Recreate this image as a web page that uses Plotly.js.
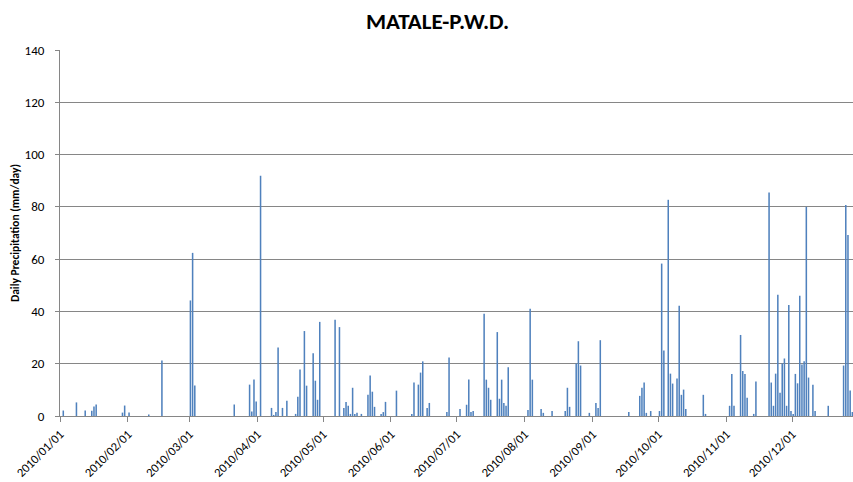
<!DOCTYPE html>
<html>
<head>
<meta charset="utf-8">
<script src="https://cdn.plot.ly/plotly-3.0.1.min.js"></script>
<style>html,body{margin:0;padding:0;background:#fff;}#chart{width:853px;height:482px;}</style>
</head>
<body>
<div id="chart"></div>
<script>
// Daily precipitation (mm/day), MATALE-P.W.D., 2010 (non-zero days)
const dates = [
 "2010-01-02","2010-01-08","2010-01-12","2010-01-15","2010-01-16","2010-01-17","2010-01-29","2010-01-30",
 "2010-02-01","2010-02-10","2010-02-16",
 "2010-03-01","2010-03-02","2010-03-03","2010-03-21","2010-03-28","2010-03-29","2010-03-30","2010-03-31",
 "2010-04-02","2010-04-07","2010-04-08","2010-04-09","2010-04-10","2010-04-12","2010-04-14","2010-04-18",
 "2010-04-19","2010-04-20","2010-04-22","2010-04-23","2010-04-26","2010-04-27","2010-04-28","2010-04-29",
 "2010-05-06","2010-05-08","2010-05-10","2010-05-11","2010-05-12","2010-05-13","2010-05-14","2010-05-15",
 "2010-05-16","2010-05-18","2010-05-21","2010-05-22","2010-05-23","2010-05-24","2010-05-27","2010-05-28","2010-05-29",
 "2010-06-03","2010-06-10","2010-06-11","2010-06-13","2010-06-14","2010-06-15","2010-06-17","2010-06-18",
 "2010-06-26","2010-06-27",
 "2010-07-02","2010-07-05","2010-07-06","2010-07-07","2010-07-08","2010-07-13","2010-07-14","2010-07-15",
 "2010-07-16","2010-07-19","2010-07-20","2010-07-21","2010-07-22","2010-07-23","2010-07-24",
 "2010-08-02","2010-08-03","2010-08-04","2010-08-08","2010-08-09","2010-08-13","2010-08-19","2010-08-20",
 "2010-08-21","2010-08-24","2010-08-25","2010-08-26","2010-08-30",
 "2010-09-02","2010-09-03","2010-09-04","2010-09-17","2010-09-22","2010-09-23","2010-09-24","2010-09-25","2010-09-27",
 "2010-10-01","2010-10-02","2010-10-03","2010-10-05","2010-10-06","2010-10-07","2010-10-09","2010-10-10",
 "2010-10-11","2010-10-12","2010-10-13","2010-10-21","2010-10-22",
 "2010-11-02","2010-11-03","2010-11-04","2010-11-07","2010-11-08","2010-11-09","2010-11-10","2010-11-13",
 "2010-11-14","2010-11-20","2010-11-21","2010-11-22","2010-11-23","2010-11-24","2010-11-25","2010-11-26",
 "2010-11-27","2010-11-28","2010-11-29","2010-11-30",
 "2010-12-01","2010-12-02","2010-12-03","2010-12-04","2010-12-05","2010-12-06","2010-12-07","2010-12-08",
 "2010-12-10","2010-12-11","2010-12-17","2010-12-24","2010-12-25","2010-12-26","2010-12-27","2010-12-28"
];
const precipitation = [
 2.1,5.2,2.1,2.0,3.6,4.4,1.3,4.0,
 1.3,0.6,21.2,
 44.2,62.4,11.7,4.4,12.0,1.7,14.0,5.5,
 91.9,3.1,0.4,1.5,26.2,3.1,5.8,0.8,
 7.4,17.8,32.5,11.6,24.0,13.5,6.2,36.0,
 36.8,34.0,3.1,5.4,3.9,0.8,10.8,0.8,
 1.2,0.8,8.1,15.5,9.3,3.5,0.8,1.5,5.4,
 9.7,0.8,12.8,12.0,16.6,20.9,3.1,5.0,
 1.5,22.4,
 2.7,4.3,14.0,1.5,1.9,39.1,13.9,10.8,
 6.2,32.1,6.6,13.9,5.0,3.9,18.6,
 2.3,41.0,13.9,2.7,1.2,1.9,1.9,10.8,
 3.5,20.1,28.6,19.3,1.2,
 5.0,3.1,29.0,1.5,7.7,10.8,12.8,1.2,1.9,
 1.9,58.3,25.1,82.7,16.2,12.4,14.3,42.2,
 8.1,10.1,2.7,8.1,0.8,
 3.9,16.1,3.9,31.0,17.2,16.1,7.0,0.8,
 13.2,85.5,12.8,3.9,16.2,46.4,8.9,20.1,
 22.0,3.9,42.5,1.9,
 0.8,16.1,12.5,46.0,19.7,20.9,80.0,14.7,
 12.0,1.9,3.9,19.3,80.7,69.2,9.8,1.5
];
const chartTitle = "MATALE-P.W.D.";
const yTitle = "Daily Precipitation (mm/day)";
const monthTicks = ["2010-01-01","2010-02-01","2010-03-01","2010-04-01","2010-05-01","2010-06-01",
 "2010-07-01","2010-08-01","2010-09-01","2010-10-01","2010-11-01","2010-12-01"];
const monthLabels = ["2010/01/01","2010/02/01","2010/03/01","2010/04/01","2010/05/01","2010/06/01",
 "2010/07/01","2010/08/01","2010/09/01","2010/10/01","2010/11/01","2010/12/01"];

const fontFam = 'Carlito, Calibri, "Open Sans", "Liberation Sans", sans-serif';

const trace = {
  type: 'bar',
  x: dates,
  y: precipitation,
  xperiod: 86400000,
  xperiodalignment: 'middle',
  marker: {color: '#4F81BD', line: {width: 0}},
  hoverinfo: 'x+y'
};

const layout = {
  width: 853, height: 482,
  margin: {l: 60, r: 0, t: 50, b: 65.5, pad: 0},
  paper_bgcolor: '#ffffff',
  plot_bgcolor: '#ffffff',
  bargap: 0.3,
  showlegend: false,
  font: {family: fontFam, size: 12, color: '#000'},
  title: {text: '<b>' + chartTitle + '</b>', font: {family: fontFam, size: 23, color: '#000'},
          x: 0.513, xanchor: 'center', y: 0.956, yanchor: 'middle'},
  xaxis: {
    type: 'date',
    range: ['2010-01-01', '2010-12-28 19:00'],
    tickmode: 'array',
    tickvals: monthTicks,
    ticktext: monthLabels,
    tickangle: -45,
    ticks: 'outside', ticklen: 5, tickcolor: '#868686', tickwidth: 1,
    showline: true, linecolor: '#868686', linewidth: 1,
    showgrid: false, zeroline: false,
    tickfont: {family: fontFam, size: 12.5, color: '#000'}
  },
  yaxis: {
    range: [0, 140],
    dtick: 20,
    ticks: 'outside', ticklen: 4, tickcolor: '#868686',
    ticklabelstandoff: 8,
    showline: true, linecolor: '#868686', linewidth: 1,
    showgrid: true, gridcolor: '#868686', gridwidth: 1,
    zeroline: false,
    tickfont: {family: fontFam, size: 13, color: '#000'},
    title: {text: '<b>' + yTitle + '</b>', font: {family: fontFam, size: 11.5, color: '#000'}, standoff: 2}
  }
};

Plotly.newPlot('chart', [trace], layout, {staticPlot: true, displayModeBar: false});
</script>
</body>
</html>
